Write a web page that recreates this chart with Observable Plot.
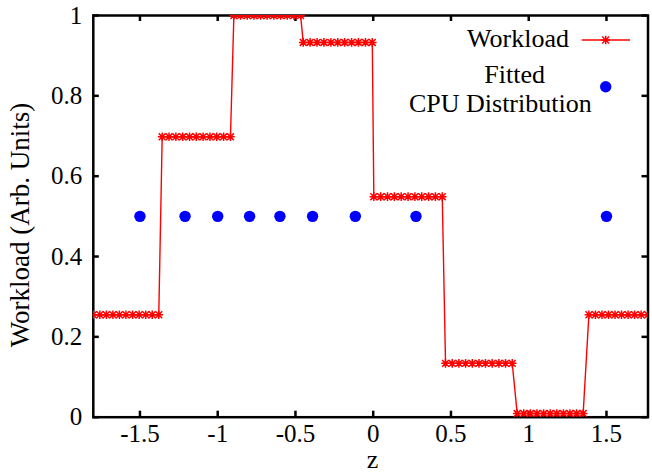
<!DOCTYPE html>
<html>
<head>
<meta charset="utf-8">
<script src="https://cdn.jsdelivr.net/npm/d3@7"></script>
<script src="https://cdn.jsdelivr.net/npm/@observablehq/plot@0.6"></script>
<style>
  html, body { margin: 0; padding: 0; background: #fff; }
  svg { display: block; }
</style>
</head>
<body>
<div id="chart"></div>
<script>
// ---- Data ----
const xTicks = [-1.5, -1, -0.5, 0, 0.5, 1, 1.5];
const yTicks = [0, 0.2, 0.4, 0.6, 0.8, 1];

// Workload: sampled z positions of each plateau and the plateau level
const workloadSegZ = [
  [-1.800, -1.758, -1.716, -1.674, -1.632, -1.590, -1.547, -1.505, -1.463, -1.421, -1.379],
  [-1.357, -1.313, -1.269, -1.225, -1.181, -1.138, -1.094, -1.050, -1.006, -0.962, -0.918],
  [-0.896, -0.853, -0.810, -0.767, -0.724, -0.682, -0.639, -0.596, -0.553, -0.510, -0.467],
  [-0.450, -0.406, -0.361, -0.317, -0.272, -0.228, -0.184, -0.139, -0.095, -0.050, -0.006],
  [0.004, 0.048, 0.092, 0.136, 0.180, 0.224, 0.268, 0.312, 0.356, 0.400, 0.444],
  [0.465, 0.508, 0.551, 0.594, 0.637, 0.680, 0.722, 0.765, 0.808, 0.851, 0.894],
  [0.926, 0.968, 1.011, 1.053, 1.096, 1.138, 1.180, 1.223, 1.265, 1.308, 1.350],
  [1.387, 1.429, 1.471, 1.513, 1.555, 1.597, 1.639, 1.681, 1.723, 1.765, 1.807]
];
const workloadLevels = [0.255, 0.698, 1.0, 0.933, 0.549, 0.134, 0.009, 0.255];

// Fitted CPU distribution
const cpuZ = [-1.5, -1.21, -1.0, -0.795, -0.6, -0.39, -0.115, 0.275, 1.5];
const cpuY = [0.5, 0.5, 0.5, 0.5, 0.5, 0.5, 0.5, 0.5, 0.5];

// ---- Tables built from the arrays ----
const workload = workloadSegZ.flatMap((zs, i) => zs.map(z => ({z, w: workloadLevels[i]})));
const cpu = cpuZ.map((z, i) => ({z, y: cpuY[i]}));

// gnuplot-like "*" point (plus + cross)
const star = {
  draw(ctx, size) {
    const r = Math.sqrt(size / Math.PI);
    const d = r * 0.8;
    ctx.moveTo(-r, 0); ctx.lineTo(r, 0);
    ctx.moveTo(0, -r); ctx.lineTo(0, r);
    ctx.moveTo(-d, -d); ctx.lineTo(d, d);
    ctx.moveTo(-d, d); ctx.lineTo(d, -d);
  }
};

const W = 652, H = 474;
const mL = 92.8, mR = 4.5, mT = 15, mB = 57.3;
const plotW = W - mL - mR, plotH = H - mT - mB;
const tickLen = 6;
const font = '"Liberation Serif"';
const starR = 4.3;

const svg = Plot.plot({
  width: W, height: H,
  marginLeft: mL, marginRight: mR, marginTop: mT, marginBottom: mB,
  style: {fontSize: "25px", color: "black", background: "white"},
  x: {domain: [-1.8, 1.767]},
  y: {domain: [0, 1]},
  marks: [
    Plot.frame({stroke: "black", strokeWidth: 2.5}),
    Plot.ruleX(xTicks, {x: d => d, insetTop: plotH - tickLen, stroke: "black", strokeWidth: 2.5}),
    Plot.ruleX(xTicks, {x: d => d, insetBottom: plotH - tickLen, stroke: "black", strokeWidth: 2.5}),
    Plot.ruleY(yTicks, {y: d => d, insetRight: plotW - tickLen, stroke: "black", strokeWidth: 2.5}),
    Plot.ruleY(yTicks, {y: d => d, insetLeft: plotW - tickLen, stroke: "black", strokeWidth: 2.5}),
    Plot.axisX({ticks: xTicks, tickSize: 0, tickPadding: 7, tickFormat: d => String(d), label: null, fontSize: 25}),
    Plot.axisY({ticks: yTicks, tickSize: 0, tickPadding: 11, tickFormat: d => String(d), label: null, fontSize: 25}),
    Plot.line(workload, {x: "z", y: "w", stroke: "#ff0000", strokeWidth: 1.4, clip: true}),
    Plot.dot(workload, {x: "z", y: "w", symbol: star, r: starR, fill: "none", stroke: "#ff0000", strokeWidth: 1.5, clip: true}),
    Plot.dot(cpu, {x: "z", y: "y", r: 5.7, fill: "#0000ff", stroke: "none"})
  ]
});

const s = d3.select(svg);
// Axis titles
s.append("text").attr("x", 372.5).attr("y", 468).attr("text-anchor", "middle")
  .style("font-size", "26px").attr("fill", "black").text("z");
s.append("text").attr("transform", "translate(29,225) rotate(-90)").attr("text-anchor", "middle")
  .style("font-size", "27px").attr("fill", "black").text("Workload (Arb. Units)");

// Legend
const lg = s.append("g").style("font-size", "26px").attr("fill", "black");
lg.append("text").attr("x", 569).attr("y", 46.5).attr("text-anchor", "end").text("Workload");
lg.append("line").attr("x1", 581.7).attr("x2", 630).attr("y1", 40).attr("y2", 40)
  .attr("stroke", "#ff0000").attr("stroke-width", 1.4);
lg.append("path").attr("transform", "translate(605.7,40)")
  .attr("d", d3.symbol(star, Math.PI * starR * starR)())
  .attr("stroke", "#ff0000").attr("stroke-width", 1.5).attr("fill", "none");
lg.append("text").attr("x", 545).attr("y", 83.3).attr("text-anchor", "end").text("Fitted");
lg.append("text").attr("x", 591.7).attr("y", 111.7).attr("text-anchor", "end").text("CPU Distribution");
lg.append("circle").attr("cx", 605.7).attr("cy", 86.7).attr("r", 5.7).attr("fill", "#0000ff");

// force the serif face on every text and group (inline style)
s.style("font-family", font);
s.selectAll("g").style("font-family", font);
s.selectAll("text").style("font-family", font);

document.getElementById("chart").appendChild(svg);
</script>
</body>
</html>
